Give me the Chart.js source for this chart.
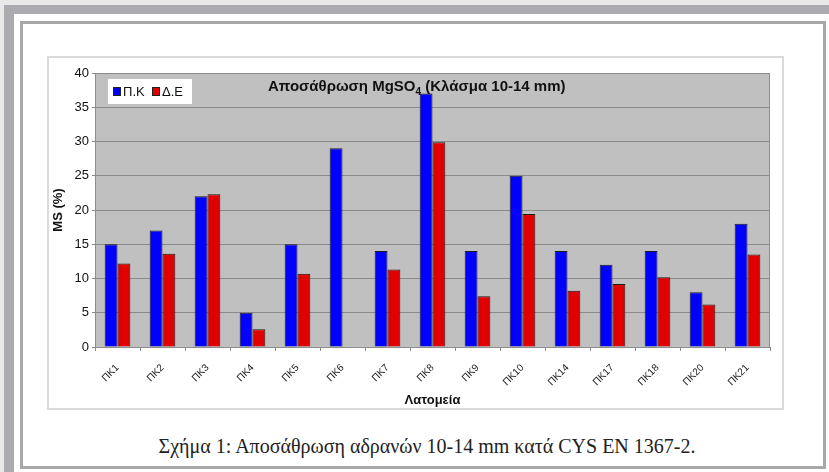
<!DOCTYPE html>
<html>
<head>
<meta charset="utf-8">
<script src="https://cdn.jsdelivr.net/npm/chart.js@4"></script>
<style>
    html, body {margin: 0; padding: 0; background: #e9e9e9; width: 829px; height: 472px; overflow: hidden;}
    #outer {position: absolute; left: 4px; top: 5px; width: 900px; height: 600px; background: #fff;
        border-top: 9px solid #acacb0; border-left: 10px solid #acacb0;}
    #frame {position: absolute; left: 20px; top: 21px; width: 806px; height: 448px; box-sizing: border-box;
        border: 3px solid #a8a8a8; background: #fff;}
    #box {position: absolute; left: 47px; top: 56px; width: 737px; height: 354px; box-sizing: border-box;
        border: 2px solid #dadada; background: #fff;}
    #wrap {position: absolute; left: 0; top: 0; width: 733px; height: 350px;}
    #caption {position: absolute; left: 24px; width: 806px; top: 435px; text-align: center;
        font-family: "Liberation Serif", "Times New Roman", serif; font-size: 20px; color: #222;}
</style>
</head>
<body>
<div id="outer"></div>
<div id="frame"></div>
<div id="box"><div id="wrap"><canvas id="msChart"></canvas></div></div>
<div id="caption">Σχήμα 1: Αποσάθρωση αδρανών 10-14 mm κατά CYS EN 1367-2.</div>
<script>
const quarries = ['ΠΚ1', 'ΠΚ2', 'ΠΚ3', 'ΠΚ4', 'ΠΚ5', 'ΠΚ6', 'ΠΚ7', 'ΠΚ8', 'ΠΚ9', 'ΠΚ10', 'ΠΚ14', 'ΠΚ17', 'ΠΚ18', 'ΠΚ20', 'ΠΚ21'];
const pkValues = [15, 17, 22, 5, 15, 29, 14, 37, 14, 25, 14, 12, 14, 8, 18];
const deValues = [12.2, 13.6, 22.3, 2.6, 10.7, null, 11.3, 29.9, 7.4, 19.4, 8.2, 9.2, 10.2, 6.2, 13.5];
const seriesNames = ['Π.Κ', 'Δ.Ε'];
const yTicks = [0, 5, 10, 15, 20, 25, 30, 35, 40];
const chartTitle = ['Αποσάθρωση MgSO', '4', ' (Κλάσμα 10-14 mm)'];

const colors = ['#0000ff', '#e00000'];
const font = '"Liberation Sans", Arial, sans-serif';

// grey plot area, white legend box and in-plot title (drawn under the bars)
const plotDecor = {
    id: 'plotDecor',
    beforeDraw(chart) {
        const {ctx, chartArea: a} = chart;
        ctx.save();
        ctx.fillStyle = '#c0c0c0';
        ctx.fillRect(a.left, a.top, a.right - a.left, a.bottom - a.top);
        ctx.restore();
    },
    beforeDatasetsDraw(chart) {
        const {ctx, chartArea: a} = chart;
        ctx.save();
        ctx.strokeStyle = '#8c8c8c';
        ctx.lineWidth = 1;
        ctx.beginPath();
        ctx.moveTo(a.right - 0.5, a.top);
        ctx.lineTo(a.right - 0.5, a.bottom);
        ctx.stroke();

        // legend
        const lx = a.left + 13, ly = a.top + 6;
        ctx.fillStyle = '#fff';
        ctx.fillRect(lx, ly, 84, 25);
        ctx.font = '13px ' + font;
        ctx.textBaseline = 'middle';
        let x = lx + 5;
        seriesNames.forEach((name, i) => {
            ctx.fillStyle = colors[i];
            ctx.fillRect(x, ly + 8, 8, 9);
            ctx.strokeStyle = '#222';
            ctx.strokeRect(x + 0.5, ly + 8.5, 7, 8);
            ctx.fillStyle = '#111';
            ctx.fillText(name, x + 10, ly + 13);
            x += 39;
        });

        // title
        ctx.fillStyle = '#111';
        ctx.font = 'bold 15px ' + font;
        let tx = a.left + 173, ty = a.top + 14;
        ctx.fillText(chartTitle[0], tx, ty);
        tx += ctx.measureText(chartTitle[0]).width;
        ctx.font = 'bold 10px ' + font;
        ctx.fillText(chartTitle[1], tx, ty + 5);
        tx += ctx.measureText(chartTitle[1]).width;
        ctx.font = 'bold 15px ' + font;
        ctx.fillText(chartTitle[2], tx, ty);
        ctx.restore();
    }
};

const ctx = document.getElementById('msChart').getContext('2d');
const chart = new Chart(ctx, {
    type: 'bar',
    data: {
        labels: quarries,
        datasets: [
            {label: seriesNames[0], data: pkValues, backgroundColor: colors[0], borderColor: '#1a1a1a', borderWidth: 1},
            {label: seriesNames[1], data: deValues, backgroundColor: colors[1], borderColor: '#1a1a1a', borderWidth: 1}
        ]
    },
    options: {
        responsive: true,
        maintainAspectRatio: false,
        animation: false,
        categoryPercentage: 0.57,
        barPercentage: 1.0,
        layout: {padding: {top: 15, right: 12, left: 0, bottom: 0}},
        plugins: {
            legend: {display: false},
            tooltip: {enabled: false}
        },
        scales: {
            x: {
                grid: {display: true, drawOnChartArea: false, offset: true, tickLength: 4, color: '#8c8c8c'},
                border: {color: '#8c8c8c'},
                ticks: {
                    autoSkip: false, maxRotation: 45, minRotation: 45, padding: 11,
                    color: '#222', font: {family: font, size: 10}
                },
                title: {
                    display: true, text: 'Λατομεία', color: '#111', padding: {top: 0, bottom: 0},
                    font: {family: font, size: 13, weight: 'bold'}
                },
                afterFit(scale) { scale.height = 61; }
            },
            y: {
                min: 0, max: 40,
                afterBuildTicks(scale) { scale.ticks = yTicks.map(v => ({value: v})); },
                grid: {color: '#8a8a8a', tickLength: 3},
                border: {color: '#8c8c8c'},
                ticks: {
                    padding: 3, color: '#111',
                    font: {family: font, size: 13}
                },
                title: {
                    display: true, text: 'MS (%)', color: '#111', padding: {top: 2, bottom: 0},
                    font: {family: font, size: 13, weight: 'bold'}
                },
                afterFit(scale) { scale.width = 46; }
            }
        }
    },
    plugins: [plotDecor]
});
</script>
</body>
</html>
